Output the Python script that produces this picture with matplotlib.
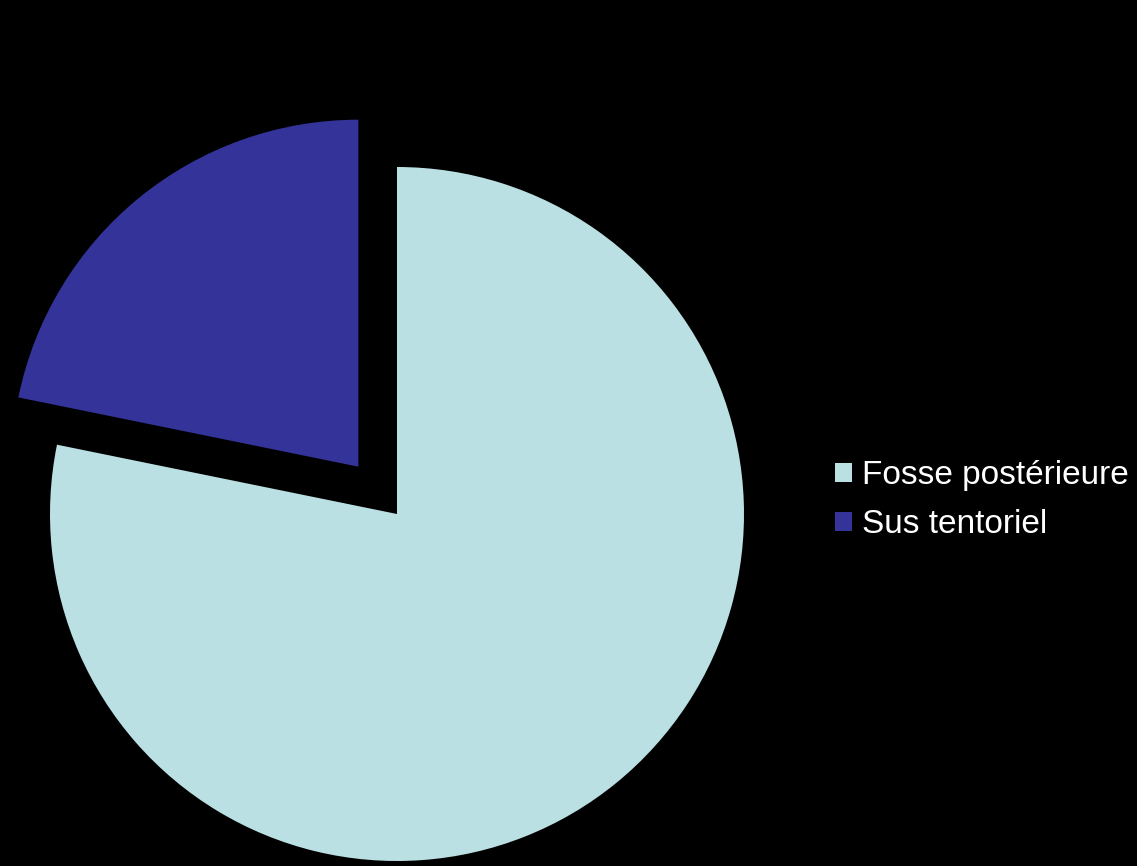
import matplotlib
matplotlib.use("Agg")
import matplotlib.pyplot as plt

plt.rcParams['font.family'] = ['Liberation Sans', 'DejaVu Sans']

labels = ["Fosse postérieure", "Sus tentoriel"]
values = [78.2, 21.8]
colors = ["#BBE0E3", "#333399"]

radius = 347
# explode is in data units here (pie radius is in pixels)
explode = [0, 0.176 * radius]

fig = plt.figure(figsize=(11.37, 8.66), dpi=100)
fig.patch.set_facecolor("black")
ax = fig.add_axes([0, 0, 1, 1])
ax.set_facecolor("black")

wedges, _ = ax.pie(values, colors=colors, explode=explode, startangle=90,
                   counterclock=False, center=(397, 866 - 514), radius=radius,
                   frame=True)
ax.set_xlim(0, 1137)
ax.set_ylim(0, 866)
ax.set_aspect("equal")
ax.axis("off")

leg = ax.legend(wedges, labels, loc="center left",
                bbox_to_anchor=(835 / 1137, (866 - 500) / 866),
                bbox_transform=fig.transFigure, frameon=False,
                fontsize=24, handlelength=0.5, handleheight=0.5,
                handletextpad=0.3, labelspacing=0.53,
                borderpad=0, borderaxespad=0)
for t in leg.get_texts():
    t.set_color("white")

fig.savefig("out.png", dpi=100, facecolor="black")
